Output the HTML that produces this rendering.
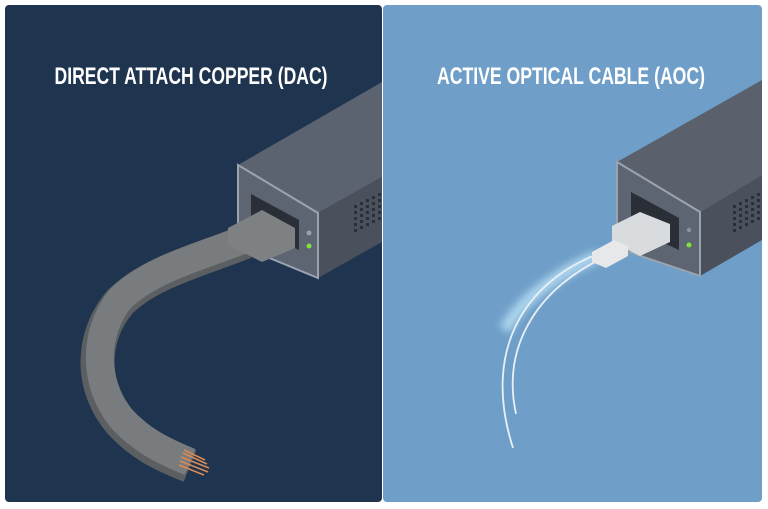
<!DOCTYPE html>
<html><head><meta charset="utf-8"><style>
html,body{margin:0;padding:0;background:#fff;}
svg{display:block}
</style></head><body>
<svg width="768" height="509" viewBox="0 0 768 509" xmlns="http://www.w3.org/2000/svg">
<defs>
<clipPath id="cl"><rect x="5" y="5" width="377" height="497" rx="4"/></clipPath>
<clipPath id="cr"><rect x="383" y="5" width="379" height="497" rx="4"/></clipPath>
<filter id="glow" x="-50%" y="-50%" width="200%" height="200%"><feGaussianBlur stdDeviation="4"/></filter>
</defs>
<rect width="768" height="509" fill="#fff"/>
<g clip-path="url(#cl)">
<rect x="5" y="5" width="377" height="497" fill="#1f344f"/>
<polygon points="238,165 382,82 382,177 318,213" fill="#5b6270"/>
<polygon points="318,213 382,177 382,242 318,278" fill="#4a505c"/>
<polygon points="238,165 318,213 318,278 238,245" fill="#5e6572" stroke="#9aa3b0" stroke-width="2"/>
<g fill="#2a2f38">
<rect x="354" y="205" width="3" height="3"/><rect x="360" y="202" width="3" height="3"/><rect x="366" y="199" width="3" height="3"/><rect x="372" y="196" width="3" height="3"/><rect x="378" y="193" width="3" height="3"/>
<rect x="354" y="211" width="3" height="3"/><rect x="360" y="208" width="3" height="3"/><rect x="366" y="205" width="3" height="3"/><rect x="372" y="202" width="3" height="3"/><rect x="378" y="199" width="3" height="3"/>
<rect x="354" y="217" width="3" height="3"/><rect x="360" y="214" width="3" height="3"/><rect x="366" y="211" width="3" height="3"/><rect x="372" y="208" width="3" height="3"/><rect x="378" y="205" width="3" height="3"/>
<rect x="354" y="223" width="3" height="3"/><rect x="360" y="220" width="3" height="3"/><rect x="366" y="217" width="3" height="3"/><rect x="372" y="214" width="3" height="3"/><rect x="378" y="211" width="3" height="3"/>
<rect x="354" y="229" width="3" height="3"/><rect x="360" y="226" width="3" height="3"/><rect x="366" y="223" width="3" height="3"/><rect x="372" y="220" width="3" height="3"/><rect x="378" y="217" width="3" height="3"/>
</g>
<polygon points="251,194 299,220 299,250 251,228" fill="#2a2e36"/>
<circle cx="309" cy="233" r="2.5" fill="#9aa0a8"/>
<circle cx="309" cy="246" r="2.5" fill="#7fe03a"/>
<path d="M245,242 C200,260 150,272 120,302 C90,337 90,387 120,422 C140,444 160,454 190,466" fill="none" stroke="#5c5f62" stroke-width="34"/>
<path d="M245,239 C200,257 150,269 120,299 C93,333 93,383 121,418 C141,440 161,450 190,462" fill="none" stroke="#797c7f" stroke-width="28"/>
<polygon points="228,228 262,210 295,228 295,248 262,262 228,245" fill="#7e8184"/>
<g stroke="#d98a55" stroke-width="1.6">
<line x1="183" y1="453" x2="207" y2="464"/><line x1="181" y1="457" x2="209" y2="468"/><line x1="180" y1="461" x2="208" y2="472"/><line x1="179" y1="465" x2="204" y2="475"/><line x1="184" y1="450" x2="205" y2="460"/>
</g>
<text x="191" y="84" text-anchor="middle" fill="#fff" font-weight="bold" font-family="'Liberation Sans Narrow','Liberation Sans',sans-serif" font-size="24" textLength="273" lengthAdjust="spacingAndGlyphs">DIRECT ATTACH COPPER (DAC)</text>
</g>
<g clip-path="url(#cr)">
<rect x="383" y="5" width="379" height="497" fill="#6f9fc8"/>
<polygon points="617,162 762,80 762,175 700,212" fill="#5a606c"/>
<polygon points="700,212 762,175 762,240 700,276" fill="#4a505c"/>
<polygon points="617,162 700,212 700,276 617,248" fill="#5e6572" stroke="#9aa3b0" stroke-width="2"/>
<g fill="#2a2f38">
<rect x="733" y="205" width="3" height="3"/><rect x="739" y="202" width="3" height="3"/><rect x="745" y="199" width="3" height="3"/><rect x="751" y="196" width="3" height="3"/><rect x="757" y="193" width="3" height="3"/>
<rect x="733" y="211" width="3" height="3"/><rect x="739" y="208" width="3" height="3"/><rect x="745" y="205" width="3" height="3"/><rect x="751" y="202" width="3" height="3"/><rect x="757" y="199" width="3" height="3"/>
<rect x="733" y="217" width="3" height="3"/><rect x="739" y="214" width="3" height="3"/><rect x="745" y="211" width="3" height="3"/><rect x="751" y="208" width="3" height="3"/><rect x="757" y="205" width="3" height="3"/>
<rect x="733" y="223" width="3" height="3"/><rect x="739" y="220" width="3" height="3"/><rect x="745" y="217" width="3" height="3"/><rect x="751" y="214" width="3" height="3"/><rect x="757" y="211" width="3" height="3"/>
<rect x="733" y="229" width="3" height="3"/><rect x="739" y="226" width="3" height="3"/><rect x="745" y="223" width="3" height="3"/><rect x="751" y="220" width="3" height="3"/><rect x="757" y="217" width="3" height="3"/>
</g>
<polygon points="631,192 679,218 679,250 631,228" fill="#2a2e36"/>
<circle cx="689" cy="230" r="2.2" fill="#8a92a0"/>
<circle cx="689" cy="245" r="2.5" fill="#7fe03a"/>
<path d="M598,256 C560,272 520,300 505,330" fill="none" stroke="#c8ecff" stroke-width="12" opacity="0.7" filter="url(#glow)"/>
<path d="M598,254 C530,280 480,345 513,448" fill="none" stroke="#e8f0f6" stroke-width="1.8"/>
<path d="M603,258 C545,285 500,340 516,414" fill="none" stroke="#e8f0f6" stroke-width="1.8"/>
<polygon points="612,226 640,212 670,224 670,242 640,256 612,242" fill="#d9dcdf"/>
<polygon points="592,252 614,240 628,246 628,256 606,268 592,262" fill="#e6e8ea"/>
<text x="571" y="84" text-anchor="middle" fill="#fff" font-weight="bold" font-family="'Liberation Sans Narrow','Liberation Sans',sans-serif" font-size="24" textLength="268" lengthAdjust="spacingAndGlyphs">ACTIVE OPTICAL CABLE (AOC)</text>
</g>
</svg>
</body></html>
